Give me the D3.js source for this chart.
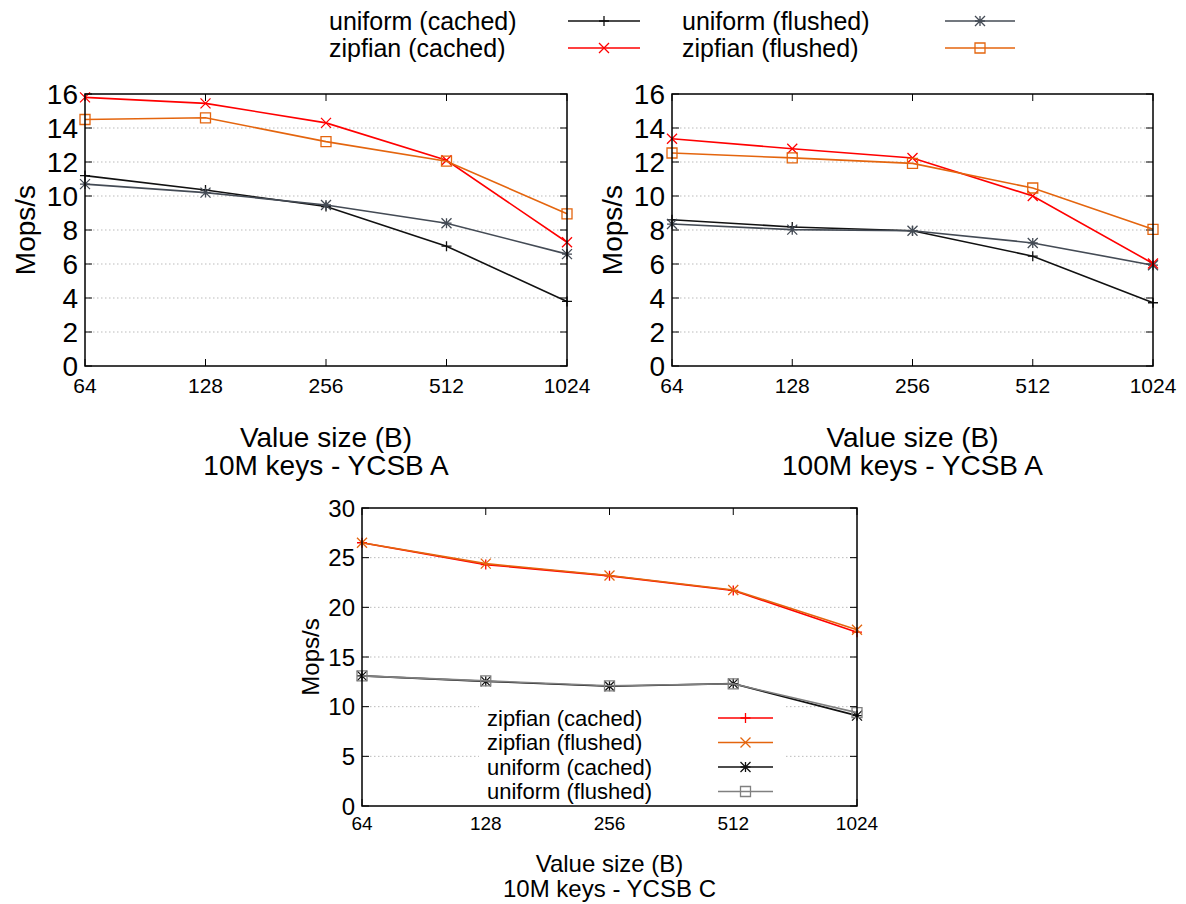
<!doctype html>
<html>
<head>
<meta charset="utf-8">
<style>
    body { margin: 0; background: #fff; }
    text { font-family: "Liberation Sans", Arial, sans-serif; fill: #000; }
    .grid line { stroke: #bbb; stroke-dasharray: 1.5,2.5; stroke-width: 1; }
</style>
<script src="https://d3js.org/d3.v7.min.js"></script>
</head>
<body>
<svg width="1186" height="904"></svg>
<script>
    // value sizes (B)
    var sizes = [64, 128, 256, 512, 1024];

    // 10M keys - YCSB A
    var aUniformCached10 = [11.2, 10.35, 9.38, 7.05, 3.8];
    var aUniformFlushed10 = [10.7, 10.2, 9.47, 8.4, 6.58];
    var aZipfCached10 = [15.8, 15.45, 14.3, 12.1, 7.28];
    var aZipfFlushed10 = [14.5, 14.6, 13.2, 12.05, 8.95];

    // 100M keys - YCSB A
    var aUniformCached100 = [8.6, 8.18, 7.96, 6.46, 3.72];
    var aUniformFlushed100 = [8.35, 8.02, 7.96, 7.24, 5.93];
    var aZipfCached100 = [13.37, 12.78, 12.24, 10.0, 6.03];
    var aZipfFlushed100 = [12.53, 12.24, 11.92, 10.47, 8.04];

    // 10M keys - YCSB C
    var cZipfCached = [26.5, 24.3, 23.17, 21.7, 17.5];
    var cZipfFlushed = [26.5, 24.4, 23.2, 21.75, 17.74];
    var cUniformCached = [13.1, 12.55, 12.05, 12.32, 9.1];
    var cUniformFlushed = [13.1, 12.6, 12.1, 12.3, 9.4];

    var ticksA = [0, 2, 4, 6, 8, 10, 12, 14, 16];
    var ticksC = [0, 5, 10, 15, 20, 25, 30];

    var RED = "#ff0000", ORANGE = "#e4650e", BLACK = "#111", SLATE = "#444b55", GRAY = "#808080";

    var svg = d3.select("svg");

    function marker(g, type, x, y, color) {
        var s = 5;
        var p = d3.path();
        if (type == "plus" || type == "star") {
            p.moveTo(x - s, y); p.lineTo(x + s, y);
            p.moveTo(x, y - s); p.lineTo(x, y + s);
        }
        if (type == "cross" || type == "star") {
            p.moveTo(x - s, y - s); p.lineTo(x + s, y + s);
            p.moveTo(x - s, y + s); p.lineTo(x + s, y - s);
        }
        if (type == "square") {
            p.rect(x - s, y - s, 2 * s, 2 * s);
        }
        g.append("path").attr("d", p.toString())
         .attr("fill", "none").attr("stroke", color).attr("stroke-width", 1.3);
    }

    function chart(opt) {
        var g = svg.append("g");
        var x = d3.scaleLog().base(2).domain([64, 1024]).range([opt.left, opt.right]);
        var y = d3.scaleLinear().domain([0, opt.ymax]).range([opt.bottom, opt.top]);

        // grid
        var grid = g.append("g").attr("class", "grid");
        grid.selectAll("line").data(opt.yticks.slice(1, -1)).enter().append("line")
            .attr("x1", opt.left).attr("x2", opt.right)
            .attr("y1", function(d) { return y(d); })
            .attr("y2", function(d) { return y(d); });

        // y ticks (in, both sides)
        opt.yticks.forEach(function(t) {
            g.append("line").attr("x1", opt.left).attr("x2", opt.left + 7)
             .attr("y1", y(t)).attr("y2", y(t)).attr("stroke", "#000");
            g.append("line").attr("x1", opt.right).attr("x2", opt.right - 7)
             .attr("y1", y(t)).attr("y2", y(t)).attr("stroke", "#000");
            g.append("text").attr("x", opt.left - 7).attr("y", y(t))
             .attr("text-anchor", "end").attr("dominant-baseline", "central")
             .style("font-size", opt.yfont + "px").text(t);
        });
        // x ticks
        sizes.forEach(function(s) {
            g.append("line").attr("x1", x(s)).attr("x2", x(s))
             .attr("y1", opt.bottom).attr("y2", opt.bottom - 7).attr("stroke", "#000");
            g.append("line").attr("x1", x(s)).attr("x2", x(s))
             .attr("y1", opt.top).attr("y2", opt.top + 7).attr("stroke", "#000");
            g.append("text").attr("x", x(s)).attr("y", opt.bottom + opt.xoff)
             .attr("text-anchor", "middle")
             .style("font-size", opt.xfont + "px").text(s);
        });

        // in-plot legend (bottom chart)
        if (opt.legend) {
            var L = opt.legend;
            g.append("rect").attr("x", L.x - 8).attr("y", L.y - 14)
             .attr("width", L.x2 - L.x + 20).attr("height", L.dy * opt.series.length + 4)
             .attr("fill", "#fff");
            opt.series.forEach(function(s, i) {
                var yy = L.y + i * L.dy;
                g.append("text").attr("x", L.x).attr("y", yy).attr("dominant-baseline", "central")
                 .style("font-size", L.font + "px").text(s.name);
                g.append("line").attr("x1", L.x1).attr("x2", L.x2).attr("y1", yy).attr("y2", yy)
                 .attr("stroke", s.color).attr("stroke-width", 1.5);
                marker(g, s.mark, (L.x1 + L.x2) / 2, yy, s.color);
            });
        }

        // series
        var line = d3.line().x(function(d, i) { return x(sizes[i]); }).y(function(d) { return y(d); });
        opt.series.forEach(function(s) {
            g.append("path").datum(s.values).attr("d", line)
             .attr("fill", "none").attr("stroke", s.color).attr("stroke-width", 1.6);
            s.values.forEach(function(v, i) { marker(g, s.mark, x(sizes[i]), y(v), s.color); });
        });

        // frame
        g.append("rect").attr("x", opt.left).attr("y", opt.top)
         .attr("width", opt.right - opt.left).attr("height", opt.bottom - opt.top)
         .attr("fill", "none").attr("stroke", "#000").attr("stroke-width", 1.5);

        // labels
        var cx = (opt.left + opt.right) / 2;
        g.append("text").attr("transform", "translate(" + opt.ylabX + "," + ((opt.top + opt.bottom) / 2) + ") rotate(-90)")
         .attr("text-anchor", "middle").attr("dominant-baseline", "central")
         .style("font-size", opt.ylabFont + "px").text("Mops/s");
        g.append("text").attr("x", cx).attr("y", opt.titleY).attr("text-anchor", "middle")
         .style("font-size", opt.titleFont + "px").text("Value size (B)");
        g.append("text").attr("x", cx).attr("y", opt.titleY + opt.titleDy).attr("text-anchor", "middle")
         .style("font-size", opt.titleFont + "px").text(opt.title);
    }

    chart({
        left: 85, right: 567, top: 94, bottom: 366, ymax: 16, yticks: ticksA,
        yfont: 28, xfont: 21, xoff: 27, ylabX: 25, ylabFont: 28,
        titleY: 447, titleDy: 28, titleFont: 28, title: "10M keys - YCSB A",
        series: [
            { name: "uniform (cached)", values: aUniformCached10, color: BLACK, mark: "plus" },
            { name: "uniform (flushed)", values: aUniformFlushed10, color: SLATE, mark: "star" },
            { name: "zipfian (cached)", values: aZipfCached10, color: RED, mark: "cross" },
            { name: "zipfian (flushed)", values: aZipfFlushed10, color: ORANGE, mark: "square" }
        ]
    });

    chart({
        left: 672, right: 1153, top: 94, bottom: 366, ymax: 16, yticks: ticksA,
        yfont: 28, xfont: 21, xoff: 27, ylabX: 612, ylabFont: 28,
        titleY: 447, titleDy: 28, titleFont: 28, title: "100M keys - YCSB A",
        series: [
            { name: "uniform (cached)", values: aUniformCached100, color: BLACK, mark: "plus" },
            { name: "uniform (flushed)", values: aUniformFlushed100, color: SLATE, mark: "star" },
            { name: "zipfian (cached)", values: aZipfCached100, color: RED, mark: "cross" },
            { name: "zipfian (flushed)", values: aZipfFlushed100, color: ORANGE, mark: "square" }
        ]
    });

    chart({
        left: 362, right: 857, top: 508, bottom: 806, ymax: 30, yticks: ticksC,
        yfont: 24, xfont: 19, xoff: 24, ylabX: 310, ylabFont: 24,
        titleY: 872, titleDy: 25, titleFont: 24, title: "10M keys - YCSB C",
        legend: { x: 487, y: 718, dy: 24.5, x1: 718, x2: 773, font: 22 },
        series: [
            { name: "zipfian (cached)", values: cZipfCached, color: RED, mark: "plus" },
            { name: "zipfian (flushed)", values: cZipfFlushed, color: ORANGE, mark: "cross" },
            { name: "uniform (cached)", values: cUniformCached, color: BLACK, mark: "star" },
            { name: "uniform (flushed)", values: cUniformFlushed, color: GRAY, mark: "square" }
        ]
    });

    // shared legend on top
    var topLegend = [
        { name: "uniform (cached)", color: BLACK, mark: "plus", x: 329, x1: 568, x2: 640, y: 21 },
        { name: "uniform (flushed)", color: SLATE, mark: "star", x: 682, x1: 945, x2: 1015, y: 21 },
        { name: "zipfian (cached)", color: RED, mark: "cross", x: 329, x1: 568, x2: 640, y: 48 },
        { name: "zipfian (flushed)", color: ORANGE, mark: "square", x: 682, x1: 945, x2: 1015, y: 48 }
    ];
    var lg = svg.append("g");
    topLegend.forEach(function(d) {
        lg.append("text").attr("x", d.x).attr("y", d.y).attr("dominant-baseline", "central")
          .style("font-size", "25px").text(d.name);
        lg.append("line").attr("x1", d.x1).attr("x2", d.x2).attr("y1", d.y).attr("y2", d.y)
          .attr("stroke", d.color).attr("stroke-width", 1.5);
        marker(lg, d.mark, (d.x1 + d.x2) / 2, d.y, d.color);
    });
</script>
</body>
</html>
